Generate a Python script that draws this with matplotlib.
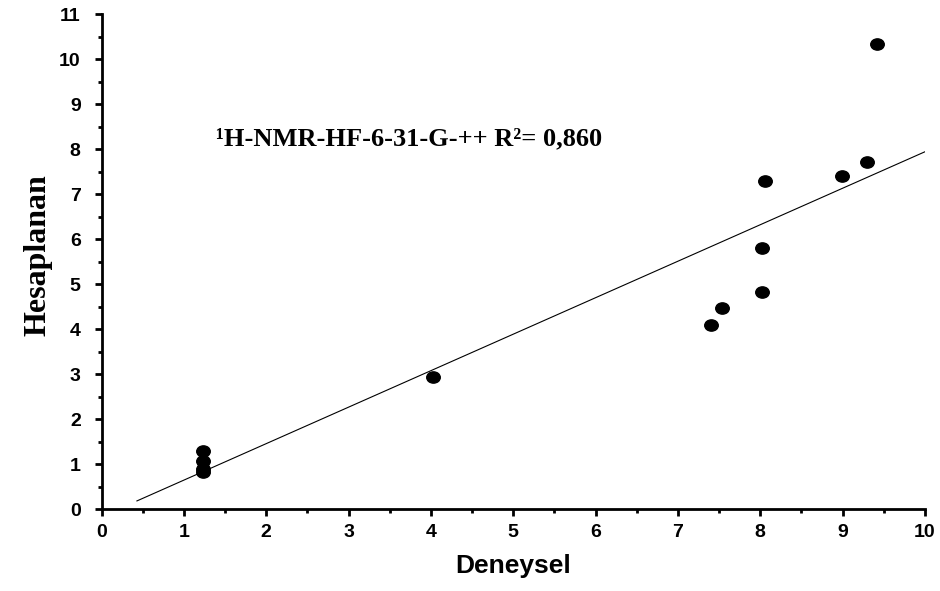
import matplotlib.pyplot as plt
import numpy as np
from matplotlib.path import Path
from matplotlib.ticker import MultipleLocator

# deneysel vs hesaplanan degerler
deneysel = [1.23, 1.23, 1.23, 1.23, 4.03, 7.40, 7.53, 8.02, 8.02, 8.06, 8.99, 9.30, 9.42]
hesaplanan = [1.29, 1.07, 0.88, 0.82, 2.93, 4.09, 4.47, 4.82, 5.80, 7.29, 7.40, 7.71, 10.33]

# dogrusal uyum cizgisi (uc noktalar)
fit_x = [0.43, 10.0]
fit_y = [0.18, 7.94]

xticks = list(range(0, 11))
yticks = list(range(0, 12))

fig = plt.figure(figsize=(9.4, 5.91), dpi=100)
ax = fig.add_axes([0.108, 0.1387, 0.876, 0.8375])

# hafif basik elips isaretci
circ = Path.unit_circle()
ell = Path(circ.vertices * np.array([1.2, 1.0]), circ.codes)

ax.plot(fit_x, fit_y, color='black', lw=0.8)
ax.scatter(deneysel, hesaplanan, marker=ell, s=95, color='black', zorder=3)

ax.set_xlim(0, 10)
ax.set_ylim(0, 11)
ax.set_xticks(xticks)
ax.set_yticks(yticks)
ax.xaxis.set_minor_locator(MultipleLocator(0.5))
ax.yaxis.set_minor_locator(MultipleLocator(0.5))

for s in ['top', 'right']:
    ax.spines[s].set_visible(False)
for s in ['left', 'bottom']:
    ax.spines[s].set_linewidth(2.0)

ax.tick_params(which='major', direction='out', length=5, width=2.0)
ax.tick_params(which='minor', direction='out', length=3, width=2.0)
ax.tick_params(axis='x', which='major', pad=6)
ax.tick_params(axis='y', which='major', pad=10)
for lab in ax.get_xticklabels() + ax.get_yticklabels():
    lab.set_fontfamily('Liberation Sans')
    lab.set_fontweight('bold')
    lab.set_fontsize(14)

ax.set_xlabel('Deneysel', fontfamily='Liberation Sans', fontweight='bold',
              fontsize=19, labelpad=9)
ax.set_ylabel('Hesaplanan', fontfamily='Liberation Serif', fontweight='bold',
              fontsize=23)
ax.yaxis.set_label_coords(-0.060, 0.513)

ax.text(1.39, 8.09, '¹H-NMR-HF-6-31-G-++ R²= 0,860', fontfamily='Liberation Serif',
        fontweight='bold', fontsize=19, va='baseline', ha='left')

fig.savefig('out.png', dpi=100)
